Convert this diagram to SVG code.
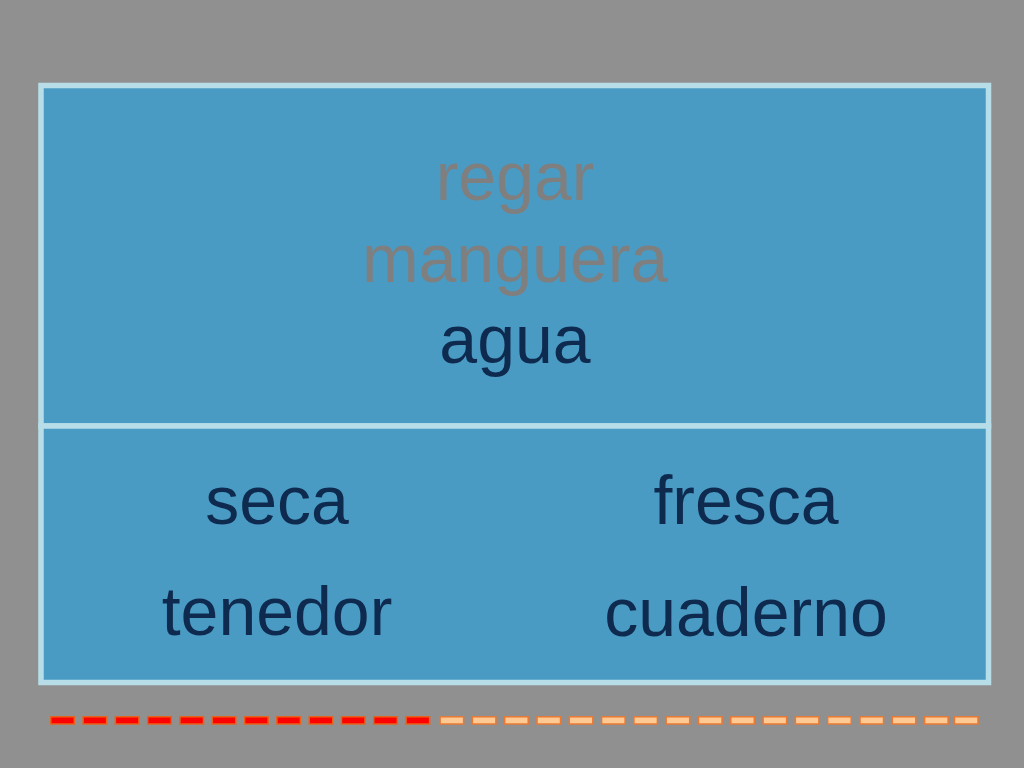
<svg xmlns="http://www.w3.org/2000/svg" width="1024" height="768" viewBox="0 0 1024 768">
<style>
.t{font-family:"Liberation Sans",Arial,sans-serif;font-size:68px;text-anchor:middle}
.g{fill:#7f7f7f}
.d{fill:#0e2a4e}
.r{fill:#ff0000;stroke:#e8621a;stroke-width:1.5}
.o{fill:#ffc994;stroke:#e87a35;stroke-width:1.5}
</style>
<rect x="0" y="0" width="1024" height="768" fill="#909090"/>
<g id="panel-top">
<rect x="41" y="85.5" width="947.5" height="340.5" fill="#4a9bc4" stroke="#b7dee8" stroke-width="5.5"/>
<text class="t g" x="515" y="200">regar</text>
<text class="t g" x="515" y="281.5">manguera</text>
<text class="t d" x="515" y="363">agua</text>
</g>
<g id="panel-bottom">
<rect x="41" y="426" width="947.5" height="256.5" fill="#4a9bc4" stroke="#b7dee8" stroke-width="5.5"/>
<text class="t d" x="277" y="523.5">seca</text>
<text class="t d" x="277" y="635">tenedor</text>
<text class="t d" x="746" y="523.5">fresca</text>
<text class="t d" x="746" y="636">cuaderno</text>
</g>
<g id="progress">
<rect class="r" x="50.8" y="716.8" width="23.5" height="7.2"/>
<rect class="r" x="83.1" y="716.8" width="23.5" height="7.2"/>
<rect class="r" x="115.4" y="716.8" width="23.5" height="7.2"/>
<rect class="r" x="147.7" y="716.8" width="23.5" height="7.2"/>
<rect class="r" x="180" y="716.8" width="23.5" height="7.2"/>
<rect class="r" x="212.3" y="716.8" width="23.5" height="7.2"/>
<rect class="r" x="244.6" y="716.8" width="23.5" height="7.2"/>
<rect class="r" x="276.9" y="716.8" width="23.5" height="7.2"/>
<rect class="r" x="309.2" y="716.8" width="23.5" height="7.2"/>
<rect class="r" x="341.5" y="716.8" width="23.5" height="7.2"/>
<rect class="r" x="373.8" y="716.8" width="23.5" height="7.2"/>
<rect class="r" x="406.1" y="716.8" width="23.5" height="7.2"/>
<rect class="o" x="440.1" y="716.8" width="23.5" height="7.2"/>
<rect class="o" x="472.4" y="716.8" width="23.5" height="7.2"/>
<rect class="o" x="504.7" y="716.8" width="23.5" height="7.2"/>
<rect class="o" x="537" y="716.8" width="23.5" height="7.2"/>
<rect class="o" x="569.3" y="716.8" width="23.5" height="7.2"/>
<rect class="o" x="601.6" y="716.8" width="23.5" height="7.2"/>
<rect class="o" x="633.9" y="716.8" width="23.5" height="7.2"/>
<rect class="o" x="666.2" y="716.8" width="23.5" height="7.2"/>
<rect class="o" x="698.5" y="716.8" width="23.5" height="7.2"/>
<rect class="o" x="730.8" y="716.8" width="23.5" height="7.2"/>
<rect class="o" x="763.1" y="716.8" width="23.5" height="7.2"/>
<rect class="o" x="795.4" y="716.8" width="23.5" height="7.2"/>
<rect class="o" x="827.7" y="716.8" width="23.5" height="7.2"/>
<rect class="o" x="860" y="716.8" width="23.5" height="7.2"/>
<rect class="o" x="892.3" y="716.8" width="23.5" height="7.2"/>
<rect class="o" x="924.6" y="716.8" width="23.5" height="7.2"/>
<rect class="o" x="954.5" y="716.8" width="23.5" height="7.2"/>
</g>
</svg>
